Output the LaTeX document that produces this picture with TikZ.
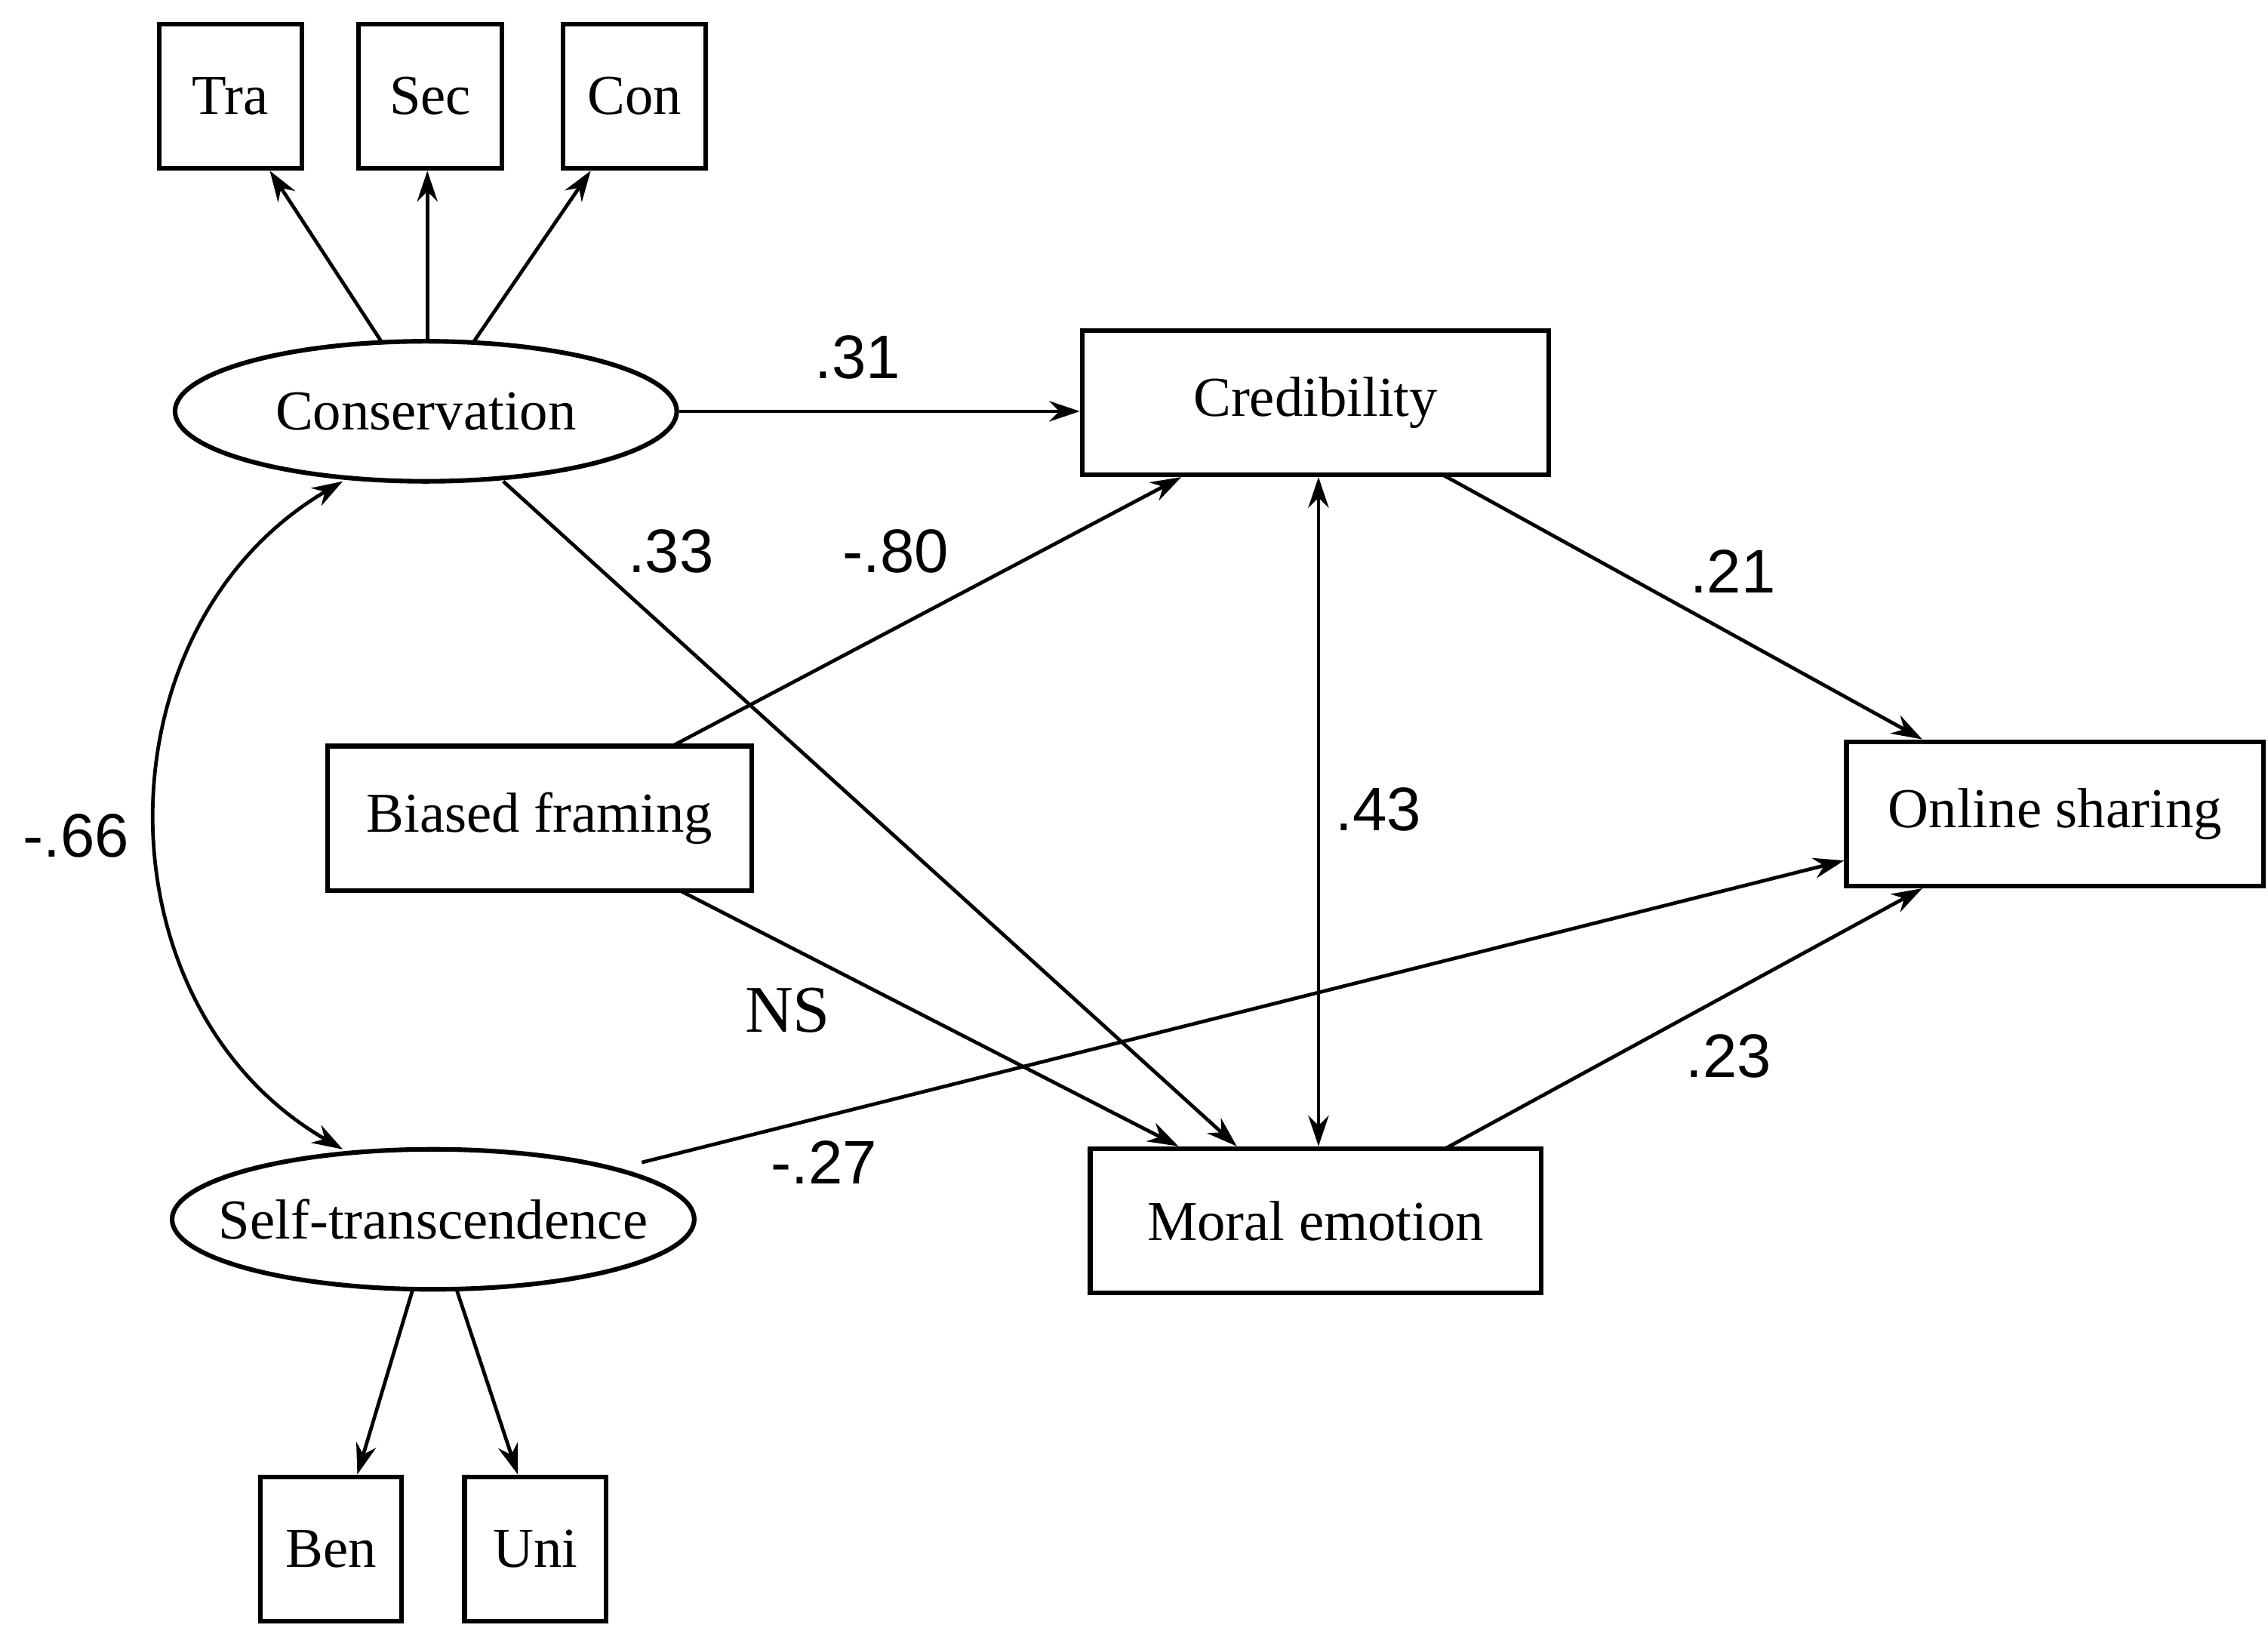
\documentclass[tikz,border=0pt]{standalone}
\usepackage{fontspec}
\setmainfont{Liberation Serif}
\newfontfamily\numfont{Liberation Sans}
\usetikzlibrary{shapes.geometric,arrows.meta}
\begin{document}
\begin{tikzpicture}[x=1cm,y=-1cm,
  box/.style={draw,line width=0.9pt,minimum height=0.99cm,inner sep=0pt,font=\fontsize{11}{12}\selectfont},
  lat/.style={draw,ellipse,line width=0.9pt,inner sep=0pt,font=\fontsize{11}{12}\selectfont},
  arr/.style={-{Stealth[length=6pt,width=4pt]},line width=0.7pt},
  lab/.style={font=\numfont\fontsize{12}{13}\selectfont,inner sep=0pt}]
\useasboundingbox (0,0) rectangle (15.55,11.18);
\node[box,minimum width=0.98cm] (tra) at (1.58,0.66) {Tra};
\node[box,minimum width=0.98cm] (sec) at (2.95,0.66) {Sec};
\node[box,minimum width=0.98cm] (con) at (4.35,0.66) {Con};
\node[lat,minimum width=3.44cm,minimum height=0.96cm] (cons) at (2.92,2.82) {Conservation};
\node[box,minimum width=3.2cm] (cred) at (9.02,2.76) {Credibility};
\node[box,minimum width=2.91cm] (bias) at (3.70,5.61) {Biased framing};
\node[box,minimum width=2.86cm] (onl) at (14.09,5.58) {Online sharing};
\node[box,minimum width=3.09cm] (mor) at (9.02,8.37) {Moral emotion};
\node[lat,inner xsep=-0.21cm,minimum width=3.58cm,minimum height=0.96cm] (self) at (2.97,8.36) {Self-transcendence};
\node[box,minimum width=0.97cm] (ben) at (2.27,10.62) {Ben};
\node[box,minimum width=0.97cm] (uni) at (3.67,10.62) {Uni};
\coordinate (c1) at (2.62,2.35); \coordinate (c2) at (2.93,2.34); \coordinate (c3) at (3.25,2.34);
\draw[arr] (c1) -- (tra.south -| 1.85,0);
\draw[arr] (c2) -- (sec.south -| 2.93,0);
\draw[arr] (c3) -- (con.south -| 4.05,0);
\coordinate (s1) at (2.83,8.84); \coordinate (s2) at (3.13,8.84);
\draw[arr] (s1) -- (ben.north -| 2.45,0);
\draw[arr] (s2) -- (uni.north -| 3.55,0);
\draw[arr] (cons.east) -- (cred.west |- cons.east);
\coordinate (cm) at (3.45,3.30); \draw[arr] (cm) -- (mor.north -| 8.48,0);
\coordinate (bt) at (4.60,5.12); \draw[arr] (bt) -- (cred.south -| 8.10,0);
\coordinate (bb) at (4.65,6.10); \draw[arr] (bb) -- (mor.north -| 8.08,0);
\draw[{Stealth[length=6pt,width=4pt]}-{Stealth[length=6pt,width=4pt]},line width=0.7pt] (cred.south -| 9.04,0) -- (mor.north -| 9.04,0);
\coordinate (cr) at (9.90,3.26); \draw[arr] (cr) -- (onl.north -| 13.18,0);
\coordinate (mr) at (9.90,7.88); \draw[arr] (mr) -- (onl.south -| 13.18,0);
\coordinate (sr) at (4.40,7.97); \draw[arr] (sr) -- (onl.west |- 0,5.90);
\coordinate (ca) at (2.35,3.30); \coordinate (sa) at (2.35,7.88);
\draw[{Stealth[length=6pt,width=4pt]}-{Stealth[length=6pt,width=4pt]},line width=0.7pt] (ca) .. controls (0.65,4.3) and (0.65,6.9) .. (sa);
\node[lab] (l1) at (5.88,2.45) {.31};
\node[lab] (l2) at (4.60,3.78) {.33};
\node[lab] (l3) at (6.14,3.78) {-.80};
\node[lab] (l4) at (11.88,3.92) {.21};
\node[lab] (l5) at (9.45,5.55) {.43};
\node[lab,font=\fontsize{13}{14}\selectfont] (l6) at (5.40,6.93) {NS};
\node[lab] (l7) at (11.85,7.24) {.23};
\node[lab] (l8) at (5.65,7.97) {-.27};
\node[lab] (l9) at (0.52,5.73) {-.66};
\end{tikzpicture}
\end{document}
